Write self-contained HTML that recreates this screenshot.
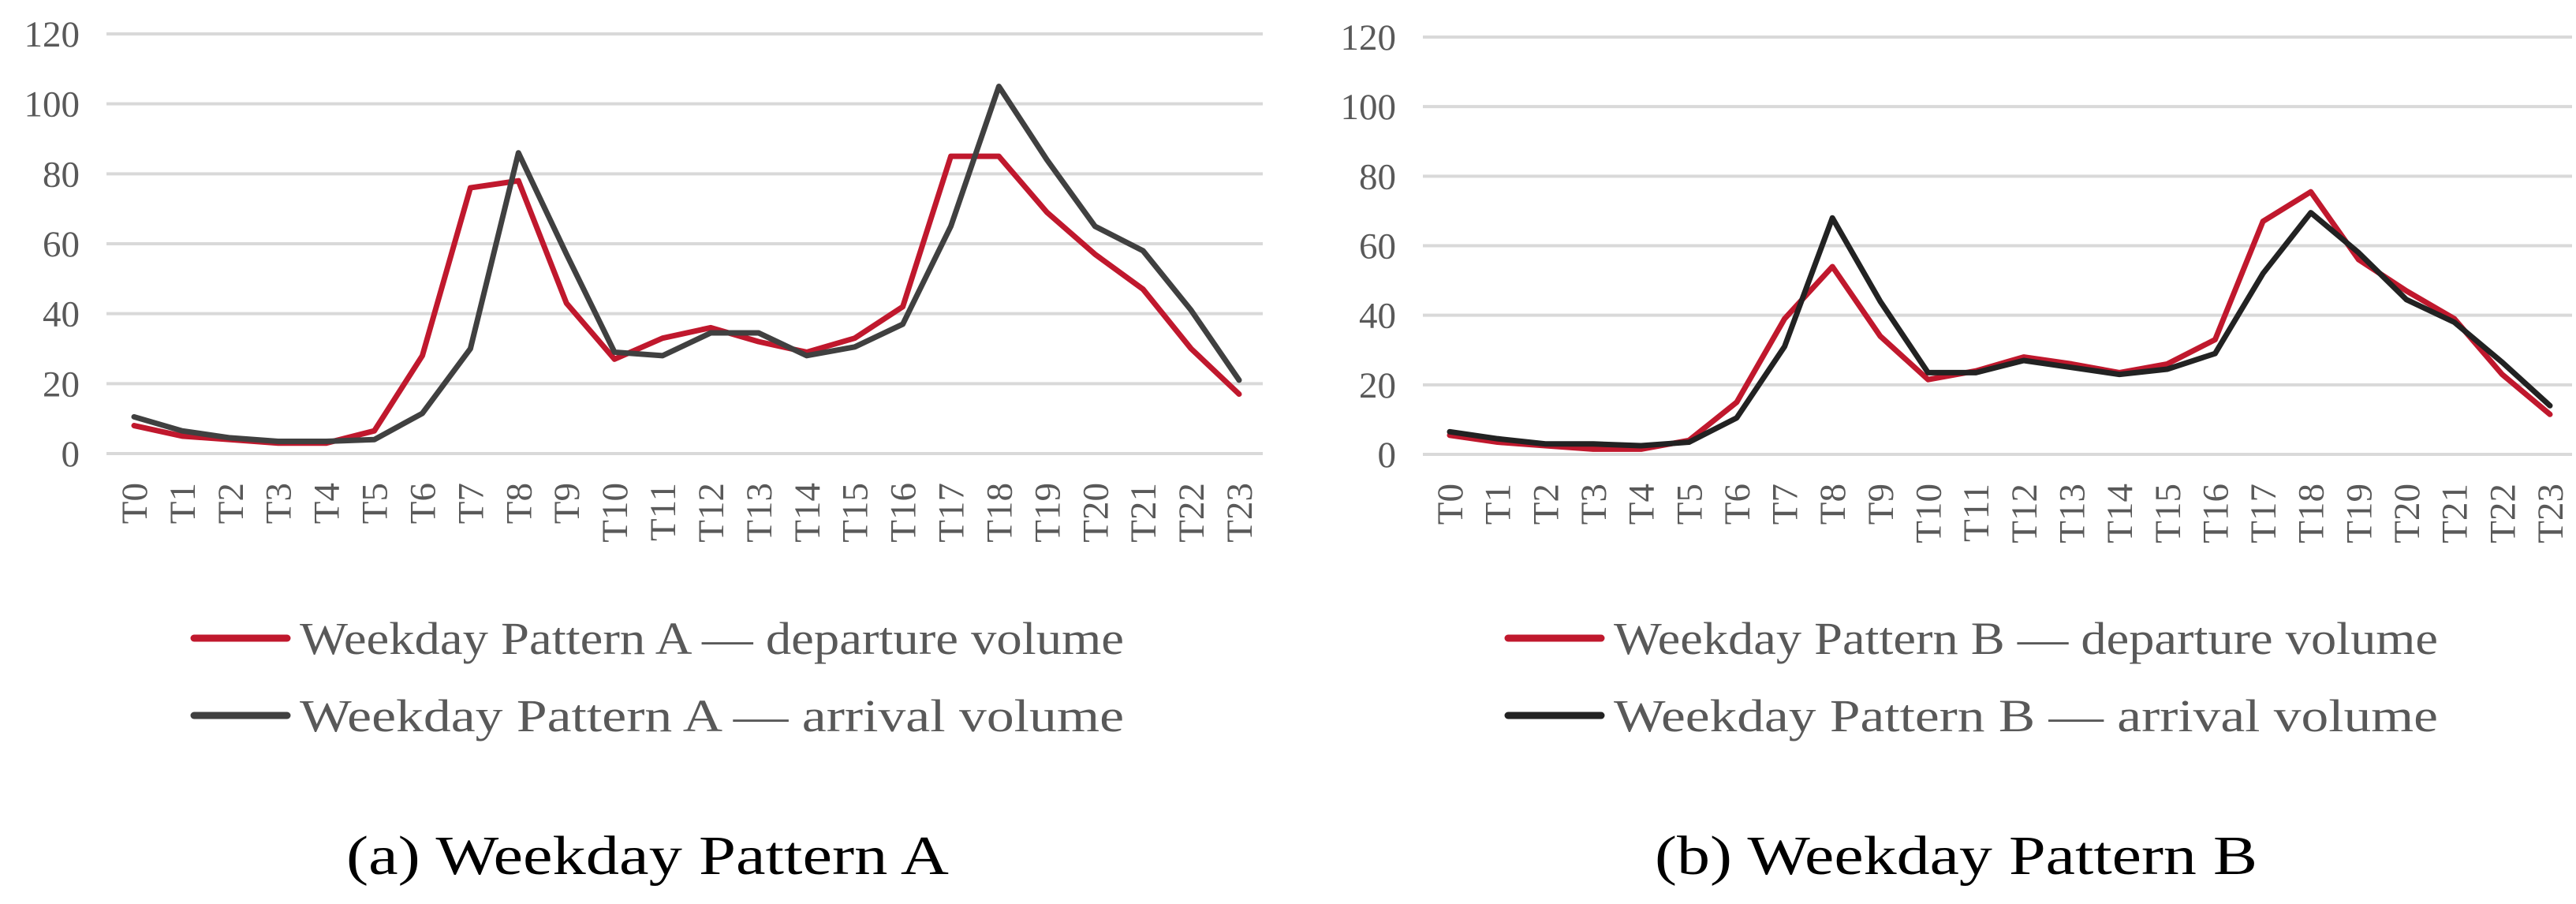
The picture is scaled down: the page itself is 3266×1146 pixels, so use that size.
<!DOCTYPE html>
<html><head><meta charset="utf-8"><style>
html,body{margin:0;padding:0;background:#fff;}
svg{display:block;font-family:"Liberation Serif",serif;}
</style></head><body>
<svg id="chart" width="3266" height="1146" viewBox="0 0 3266 1146" xmlns="http://www.w3.org/2000/svg"></svg>
<script>
const categories = ["T0","T1","T2","T3","T4","T5","T6","T7","T8","T9","T10","T11","T12","T13","T14","T15","T16","T17","T18","T19","T20","T21","T22","T23"];
const yTicks = [0,20,40,60,80,100,120];
const depA = [8,5,4,3,3,6.5,28,76,78,43,27,33,36,32,29,33,42,85,85,69,57,47,30,17];
const arrA = [10.5,6.5,4.5,3.5,3.5,4,11.5,30,86,57,29,28,34.5,34.5,28,30.5,37,65,105,84,65,58,41,21];
const depB = [5.5,3.5,2.5,1.5,1.5,4,15,39,54,34,21.5,24,28,26,23.5,26,33,67,75.5,56,47,39,23,11.5];
const arrB = [6.5,4.5,3,3,2.5,3.5,10.5,31,68,44,23.5,23.5,27,25,23,24.5,29,52,69.5,58,44.5,38,26.5,14];
const legendA = ["Weekday Pattern A \u2014 departure volume","Weekday Pattern A \u2014 arrival volume"];
const legendB = ["Weekday Pattern B \u2014 departure volume","Weekday Pattern B \u2014 arrival volume"];

const NS="http://www.w3.org/2000/svg";
const svg=document.getElementById('chart');
function mk(tag,attrs,parent){const e=document.createElementNS(NS,tag);for(const k in attrs)e.setAttribute(k,attrs[k]);(parent||svg).appendChild(e);return e;}

function panel(cfg){
  const g=mk('g',{});
  
  
  const y=v=>cfg.y0+(cfg.y120-cfg.y0)*v/120;
  const x=i=>cfg.xFirst+(cfg.xLast-cfg.xFirst)*i/(categories.length-1);
  yTicks.forEach(t=>{
    const l=mk('line',{x1:cfg.gx1,x2:cfg.gx2,y1:y(t),y2:y(t),stroke:'#d9d9d9','stroke-width':4},g);
    
    
    const tx=mk('text',{x:cfg.labelRight,y:y(t)+16,'text-anchor':'end','font-size':47,fill:'#595959'},g);
    tx.textContent=t;
    
    
  });
  categories.forEach((c,i)=>{
    const tx=mk('text',{transform:`translate(${x(i)+16},${cfg.y0+37}) rotate(-90)`,'text-anchor':'end','font-size':47,fill:'#595959'},g);
    tx.textContent=c;
    
    
  });
  cfg.series.forEach((s,si)=>{
    const pts=s.data.map((v,i)=>x(i)+','+y(v)).join(' ');
    const pl=mk('polyline',{points:pts,fill:'none',stroke:s.color,'stroke-width':7,'stroke-linejoin':'round','stroke-linecap':'round'},g);
    
    
    const ly=cfg.legY[si];
    const ll=mk('line',{x1:cfg.legX,x2:cfg.legX+118,y1:ly,y2:ly,stroke:s.color,'stroke-width':9,'stroke-linecap':'round'},g);
    
    
    const lt=mk('text',{x:cfg.legX+134,y:ly+20,'font-size':58,fill:'#595959',textLength:1045,lengthAdjust:'spacingAndGlyphs'},g);
    lt.textContent=cfg.legend[si];
    
    
  });
  const cap=mk('text',{x:cfg.capX,y:1108,'font-size':70,fill:'#000',textLength:764,lengthAdjust:'spacingAndGlyphs'},g);
  cap.textContent=cfg.caption;
  
  
}
panel({name:'panel-a',y0:575,y120:43,xFirst:170,xLast:1571,gx1:135,gx2:1601,labelRight:101,
  series:[{data:depA,color:'#c0182d',name:'line-departure-a'},{data:arrA,color:'#404040',name:'line-arrival-a'}],
  legX:246,legY:[809,907],legend:legendA,caption:'(a) Weekday Pattern A',capX:439});
panel({name:'panel-b',y0:576,y120:47,xFirst:1838,xLast:3233,gx1:1804,gx2:3261,labelRight:1770,
  series:[{data:depB,color:'#c0182d',name:'line-departure-b'},{data:arrB,color:'#222222',name:'line-arrival-b'}],
  legX:1912,legY:[809,907],legend:legendB,caption:'(b) Weekday Pattern B',capX:2098});
</script>
</body></html>
